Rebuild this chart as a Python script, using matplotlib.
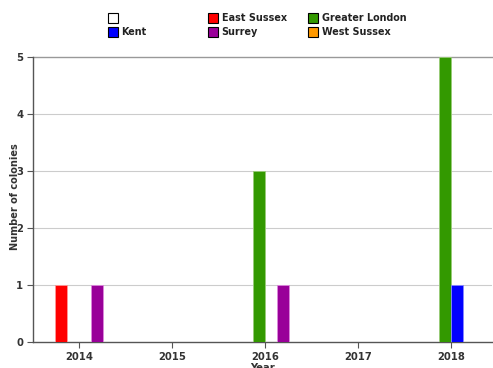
import matplotlib
matplotlib.use("Agg")
import matplotlib.pyplot as plt
from matplotlib.patches import Rectangle
import numpy as np

years = [2014, 2015, 2016, 2017, 2018]
series_names = ["", "East Sussex", "Greater London", "Kent", "Surrey", "West Sussex"]
blank = [0, 0, 0, 0, 0]
east_sussex = [1, 0, 0, 0, 0]
greater_london = [0, 0, 3, 0, 5]
kent = [0, 0, 0, 0, 1]
surrey = [1, 0, 1, 0, 0]
west_sussex = [0, 0, 0, 0, 0]
series_values = [blank, east_sussex, greater_london, kent, surrey, west_sussex]
colors = ["#FFFFFF", "#FF0000", "#339900", "#0000FF", "#990099", "#FF9900"]
edge_colors = ["#FFFFFF", "#FF9999", "#99CC77", "#8888FF", "#DD88DD", "#FFCC88"]
y_ticks = [0, 1, 2, 3, 4, 5]

plt.rcParams['font.family'] = ['DejaVu Sans']
fig = plt.figure(figsize=(4.93, 3.68), dpi=100)
ax = fig.add_axes([33/493, 1-342/368, (492-33)/493, (342-57)/368])

n = len(series_names)
w = 12/93
x = np.array(years, dtype=float)
for i, (vals, c, ec) in enumerate(zip(series_values, colors, edge_colors)):
    offs = (i - (n-1)/2) * w
    ax.bar(x + offs, vals, width=w, color=c, edgecolor=ec, linewidth=0.6, zorder=3)

ax.set_xlim(2013.5, 2018.44)
ax.set_ylim(0, 5)
ax.set_yticks(y_ticks)
ax.set_xticks(years)
ax.set_xticklabels([str(y) for y in years])
for yv in y_ticks[1:-1]:
    ax.axhline(yv, color="#cccccc", linewidth=0.8, zorder=1)
ax.axhline(5, color="#999999", linewidth=1.0, zorder=1, clip_on=False)

for s in ["top", "right"]:
    ax.spines[s].set_visible(False)
for s in ["left", "bottom"]:
    ax.spines[s].set_color("#555555")
    ax.spines[s].set_linewidth(1.0)
ax.tick_params(axis="both", colors="#555555", length=4, width=0.8, labelsize=7.2,
               labelcolor="#333333", pad=3)
for lab in ax.get_xticklabels() + ax.get_yticklabels():
    lab.set_fontweight("bold")

ax.set_xlabel("Year", fontsize=7.2, fontweight="bold", color="#333333", labelpad=1)
ax.set_ylabel("Number of colonies", fontsize=7, fontweight="bold", color="#333333")
ax.yaxis.set_label_coords((20-33)/459, 0.51)

# legend laid out in a fixed grid
for i, (name, c) in enumerate(zip(series_names, colors)):
    row, col = divmod(i, 3)
    px = 108 + 100 * col
    py = 18 + 14 * row
    fig.patches.append(Rectangle((px/493, 1-(py+4.5)/368), 10/493, 9/368,
                                 transform=fig.transFigure, facecolor=c,
                                 edgecolor="#000000", linewidth=0.8))
    fig.text((px + 13.5)/493, 1-py/368, name, fontsize=6.9, fontweight="bold",
             color="#222222", va="center", ha="left")

fig.savefig("out.png", dpi=100)
